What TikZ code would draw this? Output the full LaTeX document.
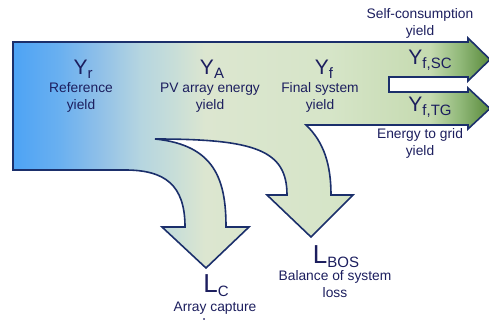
\documentclass[tikz,border=0pt]{standalone}
\usepackage{fontspec}
\setmainfont{Liberation Sans}
\definecolor{edgeblue}{HTML}{1B2F6B}
\definecolor{inkblue}{HTML}{1C1E5E}
\definecolor{flowa}{HTML}{4DA3F5}
\definecolor{flowb}{HTML}{6AB0F0}
\definecolor{flowc}{HTML}{90C0E8}
\definecolor{flowd}{HTML}{B5D5E0}
\definecolor{flowe}{HTML}{C8DED8}
\definecolor{flowf}{HTML}{DCE6D0}
\definecolor{flowg}{HTML}{D6E5C8}
\definecolor{flowh}{HTML}{C5DAB0}
\definecolor{flowi}{HTML}{90B878}
\definecolor{flowj}{HTML}{5A8A3C}
\pgfdeclarehorizontalshading{yieldflow}{100bp}{color(0bp)=(flowa); color(25bp)=(flowa);
  color(29.9bp)=(flowb); color(34.1bp)=(flowc); color(38.3bp)=(flowd);
  color(42bp)=(flowe); color(45.1bp)=(flowf); color(58.2bp)=(flowg);
  color(68.7bp)=(flowh); color(71.9bp)=(flowi); color(75bp)=(flowj); color(100bp)=(flowj)}
% symbol with lowered index
\newcommand\ysym[1]{{\fontsize{21}{21}\selectfont Y}\raisebox{-4pt}{\fontsize{15}{15}\selectfont #1}}
\newcommand\lsym[1]{{\fontsize{26}{26}\selectfont L}\raisebox{-4pt}{\fontsize{15}{15}\selectfont #1}}
\begin{document}
\begin{tikzpicture}[x=1pt,y=-1pt,
    every node/.style={inner sep=0pt,text=inkblue},
    lbl/.style={font=\fontsize{13.8}{17}\selectfont,align=center,anchor=base},
    sym/.style={anchor=base}]
    \useasboundingbox (0,0) rectangle (489,320);
    % flow shape
    \shadedraw[shading=yieldflow,draw=edgeblue,line width=1.6pt,line join=miter]
        (13,42) -- (468,42) -- (468,38) -- (490,59.5) -- (468,81) -- (468,77)
        -- (389,77) -- (389,92) -- (468,92) -- (468,88) -- (490,108.5)
        -- (468,129) -- (468,125) -- (306,125)
        .. controls (324,142) and (331,165) .. (331,195)
        -- (353,195) -- (311,237) -- (267,195) -- (287,195)
        .. controls (287,150) and (255,139) .. (155,139)
        .. controls (215,145) and (226,180) .. (226,227)
        -- (249,227) -- (206,268) -- (162,227) -- (185,227)
        .. controls (185,185) and (165,170) .. (125,170)
        -- (13,170) -- cycle;
    % yields (base = last line)
    \node[sym] (yrsym) at (83,75) {\ysym{r}};
    \node[lbl] (yrtxt) at (81,110) {Reference\\yield};
    \node[sym] (yasym) at (212,75) {\ysym{A}};
    \node[lbl] (yatxt) at (210,110) {PV array energy\\yield};
    \node[sym] (yfsym) at (324,75) {\ysym{f}};
    \node[lbl] (yftxt) at (320,110) {Final system\\yield};
    \node[lbl] (sctxt) at (420,36) {Self-consumption\\yield};
    \node[sym] (scsym) at (430,65) {\ysym{f,SC}};
    \node[sym] (tgsym) at (430,112) {\ysym{f,TG}};
    \node[lbl] (tgtxt) at (420,156) {Energy to grid\\yield};
    % losses
    \node[sym] (bossym) at (336,263) {\lsym{BOS}};
    \node[lbl] (bostxt) at (335,297) {Balance of system\\loss};
    \node[sym] (csym) at (216,292) {\lsym{C}};
    \node[lbl] (ctxt) at (215,328) {Array capture\\loss};
\end{tikzpicture}
\end{document}
